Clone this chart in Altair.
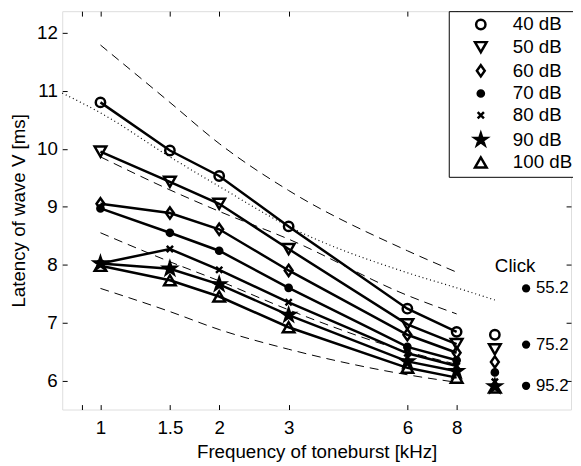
import altair as alt
import pandas as pd

# ---------------- data ----------------
freqs = [1, 1.5, 2, 3, 6, 8]
levels = ["40 dB", "50 dB", "60 dB", "70 dB", "80 dB", "90 dB", "100 dB"]
lat_40 = [10.80, 9.97, 9.53, 8.66, 7.24, 6.84]
lat_50 = [9.95, 9.43, 9.05, 8.27, 6.97, 6.63]
lat_60 = [9.05, 8.89, 8.61, 7.90, 6.79, 6.48]
lat_70 = [8.97, 8.55, 8.24, 7.60, 6.58, 6.35]
lat_80 = [8.02, 8.27, 7.91, 7.35, 6.47, 6.25]
lat_90 = [8.02, 7.93, 7.66, 7.13, 6.33, 6.16]
lat_100 = [7.98, 7.73, 7.45, 6.92, 6.22, 6.05]

click_freq = 10
click_lat = [6.79, 6.54, 6.32, 6.14, 5.98, 5.90, 5.88]

click_dot_freq = 12
click_dot_lat = [7.59, 6.62, 5.91]
click_dot_labels = ["55.2", "75.2", "95.2"]
click_title = "Click"
click_title_lat = 7.98

dash_freqs = [1, 1.5, 2, 3, 6, 8]
dash_a = [11.79, 10.80, 10.09, 9.28, 8.24, 7.87]
dash_b = [9.86, 9.29, 8.92, 8.44, 7.47, 7.15]
dash_c = [8.55, 8.05, 7.72, 7.22, 6.50, 6.28]
dash_d = [7.59, 7.19, 6.88, 6.54, 6.10, 5.97]

dot_freqs = [0.8, 1, 1.5, 2, 3, 6, 8, 10]
dot_lat = [10.96, 10.62, 9.86, 9.35, 8.66, 7.86, 7.60, 7.39]

x_ticks = [0.9, 1, 1.5, 2, 3, 6, 8]
y_ticks = [6, 7, 8, 9, 10, 11, 12]

# ---------------- tables ----------------
series = [lat_40, lat_50, lat_60, lat_70, lat_80, lat_90, lat_100]
rows = []
for lvl, vals in zip(levels, series):
    for f, v in zip(freqs, vals):
        rows.append({"freq": f, "lat": v, "level": lvl})
df = pd.DataFrame(rows)

df_click = pd.DataFrame({"freq": [click_freq] * len(levels), "lat": click_lat, "level": levels})
df_cdots = pd.DataFrame({"freq": [click_dot_freq] * 3, "lat": click_dot_lat, "label": click_dot_labels})
df_ctitle = pd.DataFrame({"freq": [click_freq], "lat": [click_title_lat], "label": [click_title]})

drows = []
for name, vals in zip(["a", "b", "c", "d"], [dash_a, dash_b, dash_c, dash_d]):
    for f, v in zip(dash_freqs, vals):
        drows.append({"freq": f, "lat": v, "curve": name})
df_dash = pd.DataFrame(drows)
df_dot = pd.DataFrame({"freq": dot_freqs, "lat": dot_lat})

FONT = "Liberation Sans"
FS = 19
STAR = "M0,-1L0.2245,-0.309L0.9511,-0.309L0.3633,0.118L0.5878,0.809L0,0.382L-0.5878,0.809L-0.3633,0.118L-0.9511,-0.309L-0.2245,-0.309Z"
XMARK = "M-1,-1L1,1M-1,1L1,-1"
DIAMOND = "M0,-1L0.7,0L0,1L-0.7,0Z"

xscale = alt.Scale(type="log", domain=[0.8, 15.6], nice=False)
yscale = alt.Scale(domain=[5.5, 12.374], nice=False, zero=False)

x_main = alt.X("freq:Q", scale=xscale, title="Frequency of toneburst [kHz]",
               axis=alt.Axis(values=x_ticks, labelExpr="datum.value == 0.9 ? '' : format(datum.value, '~g')",
                             tickSize=5, offset=-5, domain=False, labelPadding=9, grid=False,
                             labelFontSize=FS, titleFontSize=FS, titleFontWeight="normal",
                             labelFont=FONT, titleFont=FONT, tickColor="black", labelColor="black",
                             titleColor="black", titlePadding=6, labelFlush=False))
y_main = alt.Y("lat:Q", scale=yscale, title="Latency of wave V [ms]",
               axis=alt.Axis(values=y_ticks, tickSize=5, offset=-5, domain=False, labelPadding=5,
                             grid=False, labelFontSize=FS, titleFontSize=FS, titleFontWeight="normal",
                             labelFont=FONT, titleFont=FONT, tickColor="black", labelColor="black",
                             titleColor="black", titlePadding=8))
x_none = alt.X("freq:Q", scale=xscale, axis=None)
y_none = alt.Y("lat:Q", scale=yscale, axis=None)

shape_scale = alt.Scale(domain=levels, range=["circle", "triangle-down", DIAMOND, "circle", XMARK, STAR, "triangle-up"])
fill_scale = alt.Scale(domain=levels, range=["transparent", "transparent", "transparent", "black", "black", "black", "transparent"])
stroke_scale = alt.Scale(domain=levels, range=["black"] * 7)
size_scale = alt.Scale(type="ordinal", domain=levels, range=[90, 140, 130, 40, 40, 170, 140])

legend = alt.Legend(title=None, orient="none", legendX=392, legendY=0, strokeColor="black",
                    fillColor="white", padding=4, labelFont=FONT, labelFontSize=FS, labelColor="black",
                    rowPadding=2, symbolOffset=19, labelOffset=23, symbolStrokeWidth=2.5,
                    labelLimit=300)

lines = alt.Chart(df).mark_line(color="black", strokeWidth=2.5).encode(
    x=x_main, y=y_main, detail="level:N")

frame_axes = alt.Chart(df).mark_line(opacity=0).encode(
    x=alt.X("freq:Q", scale=xscale,
            axis=alt.Axis(orient="top", values=x_ticks, labels=False, title=None, tickSize=5, offset=-5,
                          domain=False, grid=False, tickColor="black")),
    y=alt.Y("lat:Q", scale=yscale,
            axis=alt.Axis(orient="right", values=y_ticks, labels=False, title=None, tickSize=5, offset=-5,
                          domain=False, grid=False, tickColor="black")),
    detail="level:N")

dashed = alt.Chart(df_dash).mark_line(color="black", strokeWidth=1, strokeDash=[9, 6], interpolate="monotone").encode(
    x=x_none, y=y_none, detail="curve:N")

dotted = alt.Chart(df_dot).mark_line(color="black", strokeWidth=1.2, strokeDash=[1, 3], interpolate="monotone").encode(
    x=x_none, y=y_none)

enc_pts = dict(
    shape=alt.Shape("level:N", scale=shape_scale, legend=legend),
    fill=alt.Fill("level:N", scale=fill_scale, legend=legend),
    stroke=alt.Stroke("level:N", scale=stroke_scale, legend=legend),
    size=alt.Size("level:N", scale=size_scale, legend=legend),
)

points = alt.Chart(df).mark_point(strokeWidth=2.5, opacity=1, filled=True).encode(
    x=x_none, y=y_none, **enc_pts)

click_pts = alt.Chart(df_click).mark_point(strokeWidth=2.5, opacity=1, filled=True).encode(
    x=x_none, y=y_none, **enc_pts)

cdots = alt.Chart(df_cdots).mark_point(filled=True, color="black", size=70, shape="circle", opacity=1).encode(
    x=x_none, y=y_none)
cdot_text = alt.Chart(df_cdots).mark_text(align="left", baseline="middle", dx=10, fontSize=17, font=FONT, color="black").encode(
    x=x_none, y=y_none, text="label:N")
ctitle = alt.Chart(df_ctitle).mark_text(align="left", baseline="middle", fontSize=FS, font=FONT, color="black").encode(
    x=x_none, y=y_none, text="label:N")

chart = alt.layer(lines, frame_axes, dashed, dotted, points, click_pts, cdots, cdot_text, ctitle).resolve_axis(
    x="independent", y="independent"
).properties(
    width=516, height=404, autosize="none",
    padding={"left": 55, "top": 0, "right": 2, "bottom": 50},
).configure_view(stroke="black", strokeWidth=1.2).configure(background="white")

chart.save("out.html", embed_options={"renderer": "svg", "actions": False})
